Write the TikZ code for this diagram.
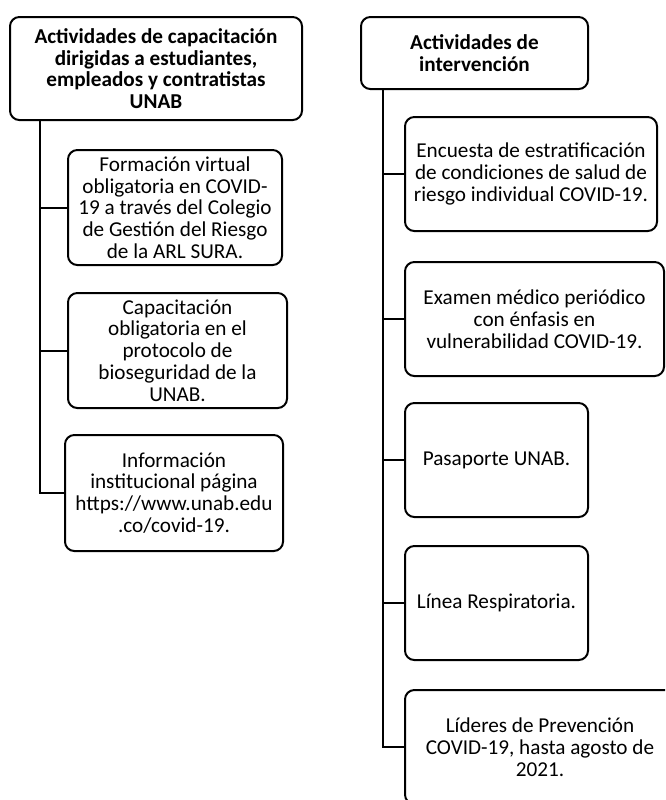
\documentclass[tikz,border=0pt]{standalone}
\usepackage{fontspec}
\setmainfont{Carlito}
\begin{document}
\begin{tikzpicture}[x=0.75pt, y=-0.75pt,
		box/.style={draw, line width=1.5pt, rounded corners=7pt, align=center, inner sep=0pt, font=\fontsize{15.9}{16.3}\selectfont},
		hdr/.style={box, font=\fontsize{15.9}{16.3}\selectfont\bfseries},
		link/.style={line width=1.5pt}]
		\clip (0,0) rectangle (665,800);
		% columna izquierda
		\node (hdrL) at (156,68.5) [hdr, minimum width=219pt, minimum height=77.25pt] {Actividades de capacitación\\dirigidas a estudiantes,\\empleados y contratistas\\UNAB};
		\node (formacion) at (175,207.5) [box, minimum width=160.5pt, minimum height=86.25pt] {Formación virtual\\obligatoria en COVID-\\19 a través del Colegio\\de Gestión del Riesgo\\de la ARL SURA.};
		\node (capacit) at (177.5,350.5) [box, minimum width=164.25pt, minimum height=86.25pt] {Capacitación\\obligatoria en el\\protocolo de\\bioseguridad de la\\UNAB.};
		\node (info) at (174,493) [box, minimum width=163.5pt, minimum height=87pt] {Información\\institucional página\\https://www.unab.edu\\.co/covid-19.};
		\coordinate (spineL) at (40,0);
		\draw[link] (hdrL.south -| spineL) |- (info.west);
		\draw[link] (spineL |- formacion.west) -- (formacion.west);
		\draw[link] (spineL |- capacit.west) -- (capacit.west);
		% columna derecha
		\node (hdrR) at (474.5,53) [hdr, minimum width=170.25pt, minimum height=54pt] {Actividades de\\intervención};
		\node (encuesta) at (531,174) [box, minimum width=189pt, minimum height=85.5pt] {Encuesta de estratificación\\de condiciones de salud de\\riesgo individual COVID-19.};
		\node (examen) at (534.5,319) [box, minimum width=194.25pt, minimum height=85.5pt] {Examen médico periódico\\con énfasis en\\vulnerabilidad COVID-19.};
		\node (pasaporte) at (496.5,460) [box, minimum width=137.25pt, minimum height=85.5pt] {Pasaporte UNAB.};
		\node (linea) at (496.5,603) [box, minimum width=137.25pt, minimum height=85.5pt] {Línea Respiratoria.};
		\node (lideres) at (540,747) [box, minimum width=202.5pt, minimum height=85.5pt] {Líderes de Prevención\\COVID-19, hasta agosto de\\2021.};
		\coordinate (spineR) at (383,0);
		\draw[link] (hdrR.south -| spineR) |- (lideres.west);
		\draw[link] (spineR |- encuesta.west) -- (encuesta.west);
		\draw[link] (spineR |- examen.west) -- (examen.west);
		\draw[link] (spineR |- pasaporte.west) -- (pasaporte.west);
		\draw[link] (spineR |- linea.west) -- (linea.west);
	\end{tikzpicture}
\end{document}
